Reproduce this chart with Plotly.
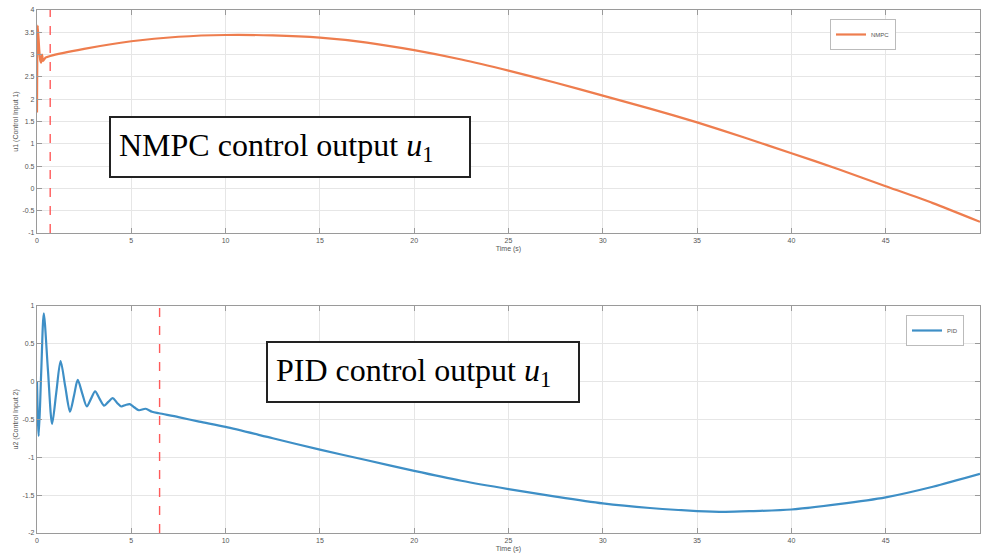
import plotly.graph_objects as go

# ---------------- data ----------------
nmpc_t = [0, 0.04, 0.12, 0.17, 0.22, 0.27, 0.32, 0.45, 0.7, 2.5, 5, 7.5, 10,
          12.5, 15, 17.5, 20, 22.5, 25, 27.5, 30, 32.5, 35, 37.5, 40, 42.5, 45, 47.5, 50]
nmpc_u = [1.7, 3.65, 3.1, 2.88, 2.82, 3.0, 2.86, 2.93, 2.97, 3.13, 3.30, 3.40, 3.44,
          3.43, 3.38, 3.27, 3.10, 2.89, 2.64, 2.37, 2.08, 1.79, 1.48, 1.14, 0.79, 0.43, 0.05, -0.33, -0.75]

pid_t = [0, 0.09, 0.22, 0.36, 0.58, 0.8, 1.02, 1.25, 1.5, 1.75, 1.96, 2.16, 2.4, 2.64, 2.86,
         3.08, 3.32, 3.56, 3.78, 4.01, 4.24, 4.47, 4.7, 4.92, 5.15, 5.4, 5.76, 6.1, 6.47,
         7.5, 8.6, 10, 12.5, 15, 17.5, 20, 22.5, 25, 27.5, 30, 32.5, 35, 36.5, 38, 40,
         42.5, 45, 47.5, 50]
pid_u = [0.0, -0.72, 0.1, 0.9, 0.15, -0.56, -0.15, 0.27, -0.07, -0.40, -0.19, 0.02, -0.16, -0.33, -0.23,
         -0.13, -0.23, -0.32, -0.27, -0.22, -0.28, -0.33, -0.31, -0.30, -0.34, -0.38, -0.36, -0.40, -0.42,
         -0.47, -0.53, -0.60, -0.75, -0.90, -1.04, -1.18, -1.31, -1.42, -1.52, -1.61, -1.67, -1.71, -1.72, -1.71, -1.69,
         -1.62, -1.53, -1.39, -1.22]

nmpc_marker_t = [0.7]
pid_marker_t = [6.5]

x_ticks = [0, 5, 10, 15, 20, 25, 30, 35, 40, 45, 50]
y1_ticks = [-1, -0.5, 0, 0.5, 1, 1.5, 2, 2.5, 3, 3.5, 4]
y2_ticks = [-2, -1.5, -1, -0.5, 0, 0.5, 1]

# ---------------- layout helpers ----------------
W, H = 981, 555
ML, MR, MT, MB = 37, 1, 10, 22
PW, PH = W - ML - MR, H - MT - MB

def px(xp):
    return (xp - ML) / PW

def py(yp):
    return (H - MB - yp) / PH

NMPC_COLOR = "#EE7D4E"
PID_COLOR = "#3E8FC6"
GRID = "#E6E6E6"
AXC = "#9A9A9A"
TXT = "#555555"
DASH = "#FF5A5A"

fig = go.Figure()
fig.add_trace(go.Scatter(x=nmpc_t, y=nmpc_u, mode="lines", name="NMPC",
                         line=dict(color=NMPC_COLOR, width=2.2, shape="spline", smoothing=0.6),
                         xaxis="x", yaxis="y", legend="legend"))
fig.add_trace(go.Scatter(x=pid_t, y=pid_u, mode="lines", name="PID",
                         line=dict(color=PID_COLOR, width=2.2, shape="spline", smoothing=0.8),
                         xaxis="x2", yaxis="y2", legend="legend2"))

for t in nmpc_marker_t:
    fig.add_shape(type="line", xref="x", yref="y domain", x0=t, x1=t, y0=0, y1=1,
                  line=dict(color=DASH, width=1.4, dash="dash"))
for t in pid_marker_t:
    fig.add_shape(type="line", xref="x2", yref="y2 domain", x0=t, x1=t, y0=0, y1=1,
                  line=dict(color=DASH, width=1.4, dash="dash"))

tickfont = dict(family="Liberation Sans, Arial, sans-serif", size=7, color=TXT)
titlefont = dict(family="Liberation Sans, Arial, sans-serif", size=7, color=TXT)

def xaxis(anchor):
    return dict(domain=[0, 1], range=[0, 50], tickvals=x_ticks, ticktext=[str(v) for v in x_ticks],
                showgrid=True, gridcolor=GRID, gridwidth=1, zeroline=False,
                showline=True, linecolor=AXC, linewidth=1.2, mirror="ticks",
                ticks="inside", ticklen=5, tickcolor=AXC, tickfont=tickfont,
                title=dict(text="Time (s)", font=titlefont, standoff=3),
                anchor=anchor, automargin=False)

def yaxis(anchor, dom, rng, ticks, title):
    return dict(domain=dom, range=rng, tickvals=ticks, ticktext=[f"{v:g}" for v in ticks],
                showgrid=True, gridcolor=GRID, gridwidth=1, zeroline=False,
                showline=True, linecolor=AXC, linewidth=1.2, mirror="ticks",
                ticks="inside", ticklen=5, tickcolor=AXC, tickfont=tickfont,
                title=dict(text=title, font=titlefont, standoff=2),
                anchor=anchor, automargin=False)

legfont = dict(family="Liberation Sans, Arial, sans-serif", size=6, color=TXT)

fig.update_layout(
    width=W, height=H, margin=dict(l=ML, r=MR, t=MT, b=MB),
    paper_bgcolor="white", plot_bgcolor="white",
    xaxis=xaxis("y"),
    yaxis=yaxis("x", [py(233), 1.0], [-1, 4], y1_ticks, "u1 (Control Input 1)"),
    xaxis2=xaxis("y2"),
    yaxis2=yaxis("x2", [0.0, py(305.7)], [-2, 1], y2_ticks, "u2 (Control Input 2)"),
    legend=dict(x=px(830), y=py(19), xanchor="left", yanchor="top", font=legfont,
                bgcolor="white", bordercolor="#BBBBBB", borderwidth=1,
                itemwidth=30, tracegroupgap=0),
    legend2=dict(x=px(906), y=py(315), xanchor="left", yanchor="top", font=legfont,
                 bgcolor="white", bordercolor="#BBBBBB", borderwidth=1,
                 itemwidth=30, tracegroupgap=0),
    showlegend=True,
)

serif = dict(family="Liberation Serif, Times New Roman, serif", size=32, color="black")
fig.add_annotation(xref="paper", yref="paper", x=px(290), y=py(147), xanchor="center", yanchor="middle",
                   text="NMPC control output <i>u</i><sub>1</sub>", showarrow=False, font=serif,
                   align="left", width=342, height=42, borderpad=8, borderwidth=2,
                   bordercolor="#222222", bgcolor="white")
fig.add_annotation(xref="paper", yref="paper", x=px(423), y=py(371.5), xanchor="center", yanchor="middle",
                   text="PID control output <i>u</i><sub>1</sub>", showarrow=False, font=serif,
                   align="left", width=294, height=42, borderpad=8, borderwidth=2,
                   bordercolor="#222222", bgcolor="white")

fig.write_html("out.html")
